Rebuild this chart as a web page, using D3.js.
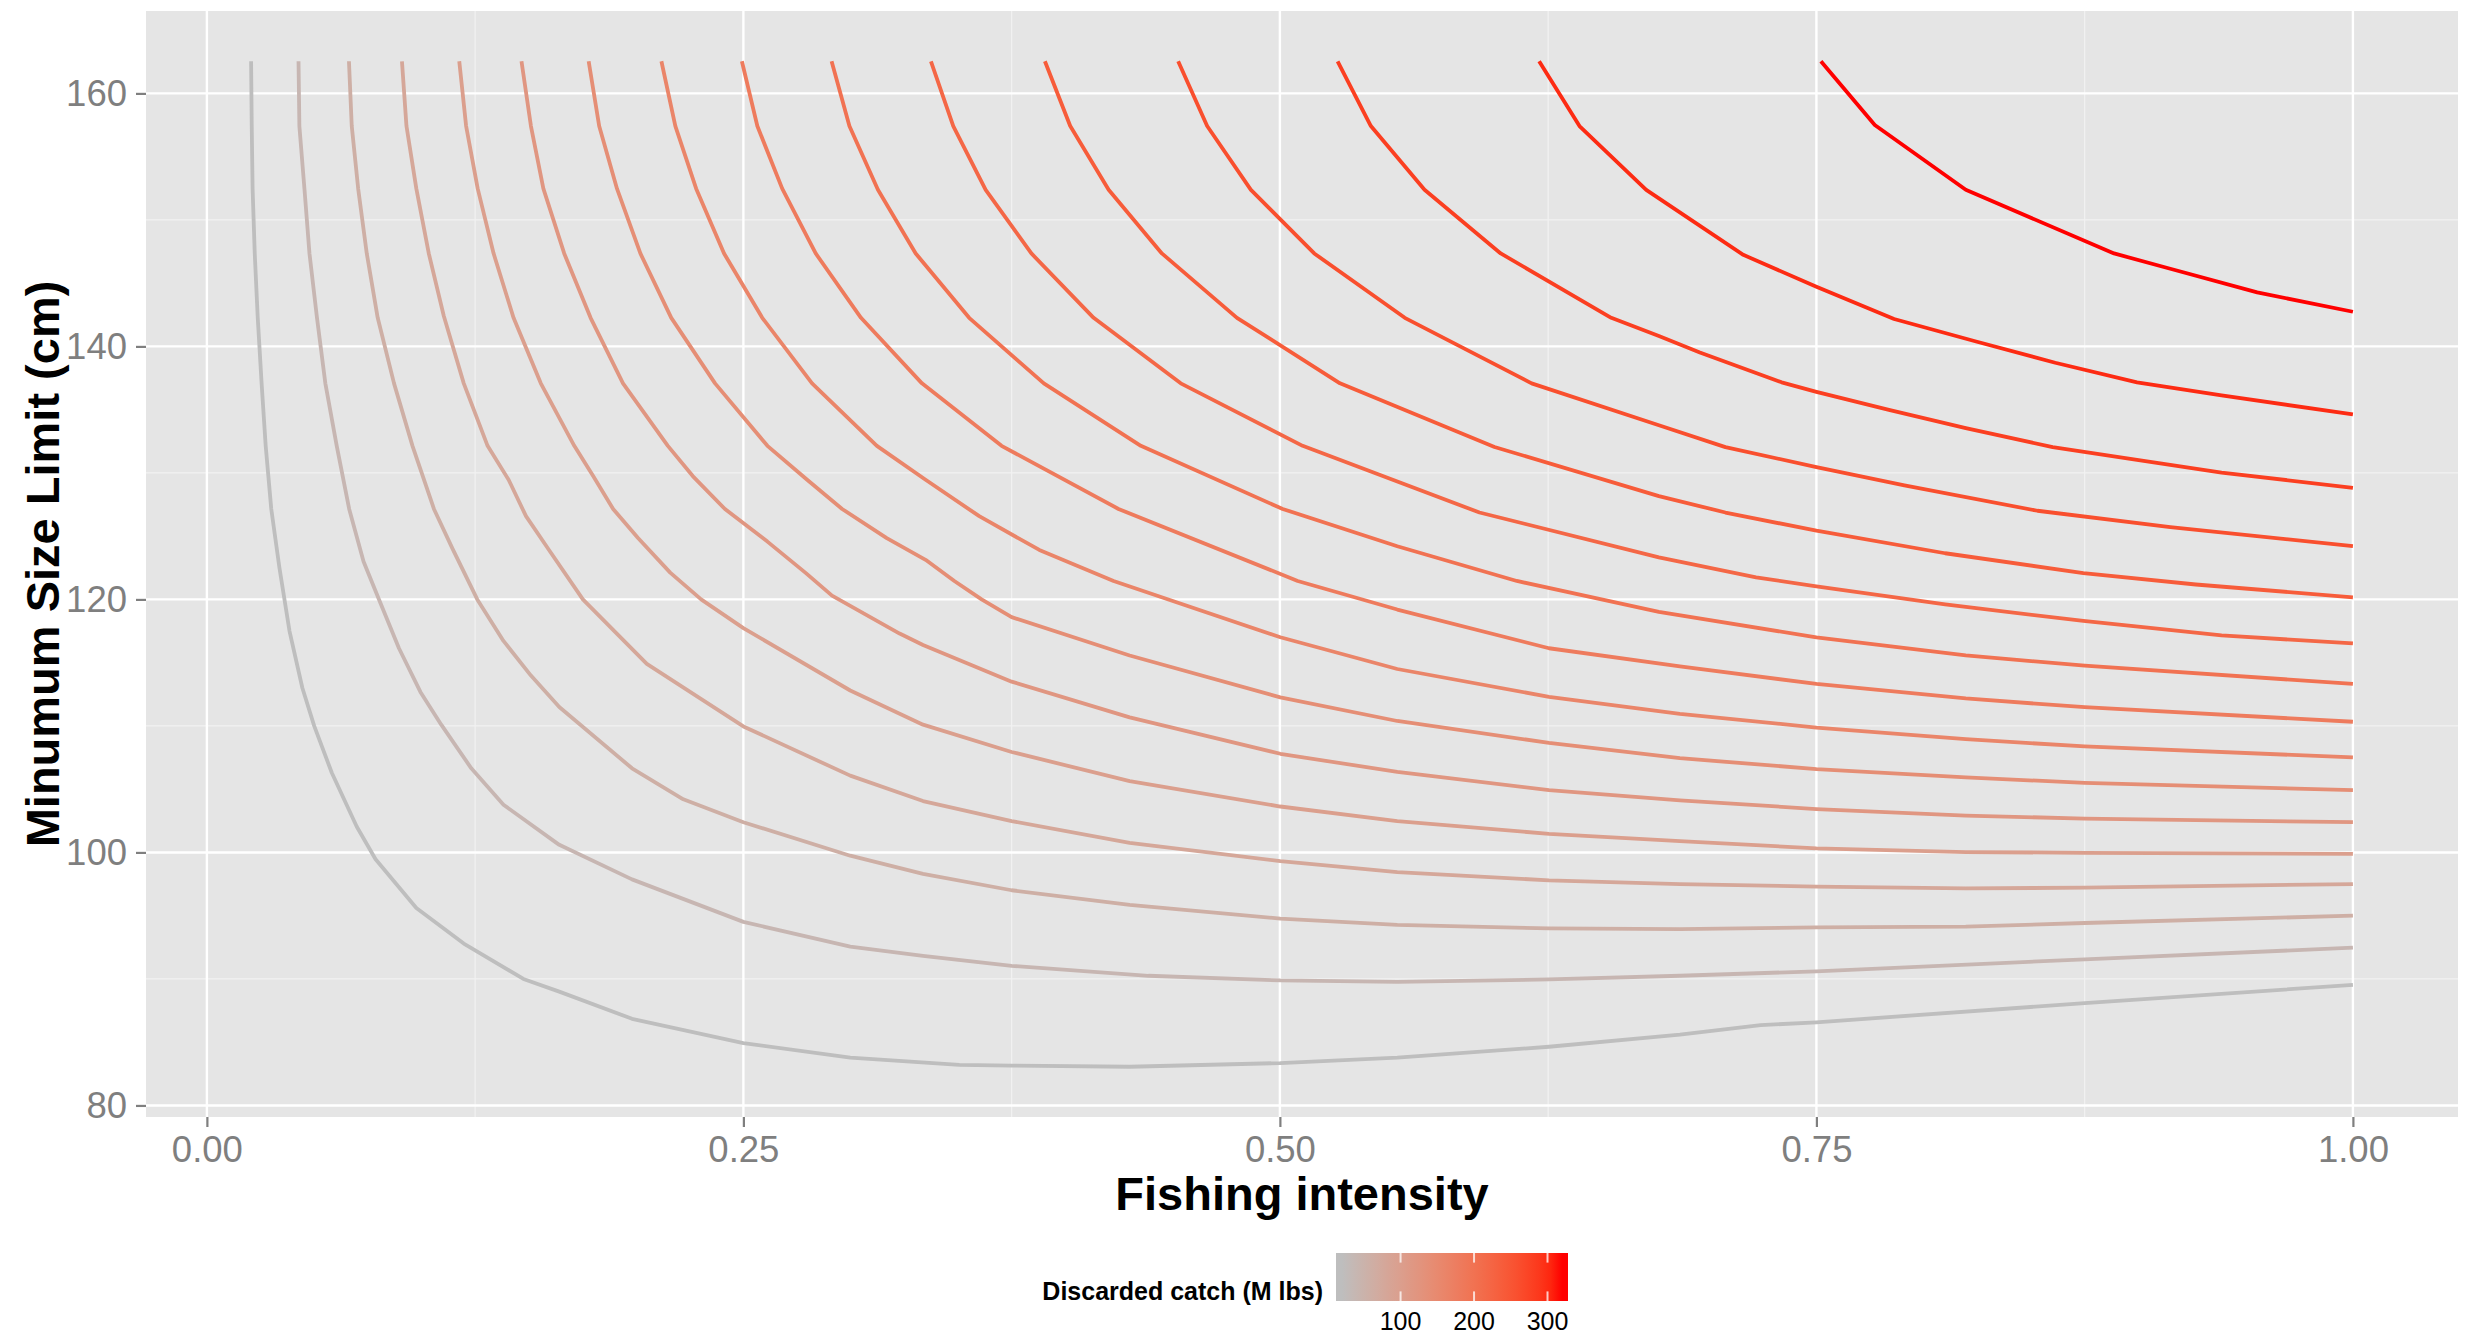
<!DOCTYPE html>
<html>
<head>
<meta charset="utf-8">
<script src="https://cdnjs.cloudflare.com/ajax/libs/d3/7.8.5/d3.min.js"></script>
<style>
  body { margin: 0; background: #ffffff; }
  text { font-family: "Liberation Sans", Arial, Helvetica, sans-serif; }
</style>
</head>
<body>
<script>

// contour levels (discarded catch, M lbs)
var levels = [20, 40, 60, 80, 100, 120, 140, 160, 180, 200, 220, 240, 260, 280, 300, 320];

// each contour as [fishing intensity, size limit]
var contour020 = [[0.0206,162.54],[0.0209,157.42],[0.0213,152.47],[0.0223,147.35],[0.0237,142.26],[0.0255,137.08],
  [0.0274,132.14],[0.03,127.15],[0.0338,122.5],[0.0385,117.5],[0.0445,113.0],[0.05,110.0],[0.0582,106.3],
  [0.0698,102.05],[0.0786,99.46],[0.0976,95.6],[0.1197,92.8],[0.1475,90.0],[0.1642,89.0],[0.1981,86.85],
  [0.25,84.93],[0.2998,83.78],[0.3506,83.2],[0.375,83.15],[0.43,83.06],[0.5002,83.35],[0.5547,83.78],
  [0.6254,84.64],[0.6864,85.6],[0.724,86.35],[0.75,86.57],[0.875,88.09],[1.0,89.53]];
var contour040 = [[0.0427,162.54],[0.0431,157.42],[0.0455,152.38],[0.0478,147.35],[0.0513,142.26],[0.0552,137.08],
  [0.0605,132.14],[0.0663,127.15],[0.073,123.0],[0.0802,120],[0.0895,116.14],[0.0995,112.69],[0.1092,110.1],
  [0.1232,106.65],[0.1382,103.77],[0.1642,100.6],[0.1981,97.87],[0.25,94.51],[0.2998,92.55],[0.3337,91.83],
  [0.375,91.04],[0.4387,90.25],[0.5002,89.88],[0.5547,89.76],[0.6254,89.96],[0.6864,90.25],[0.75,90.6],
  [0.875,91.55],[1.0,92.47]];
var contour060 = [[0.0662,162.54],[0.0675,157.42],[0.0705,152.47],[0.0745,147.35],[0.0796,142.26],[0.0872,137.08],
  [0.0958,132.14],[0.1058,127.15],[0.1145,124.0],[0.126,120],[0.1382,116.72],[0.151,113.98],[0.1642,111.5],
  [0.1981,106.65],[0.222,104.2],[0.25,102.39],[0.2998,99.74],[0.3337,98.31],[0.375,97.01],[0.43,95.86],
  [0.5002,94.77],[0.5547,94.28],[0.6254,93.99],[0.6864,93.93],[0.75,94.08],[0.8196,94.13],[0.875,94.42],[1.0,95.0]];
var contour080 = [[0.0909,162.54],[0.093,157.42],[0.0976,152.47],[0.1034,147.35],[0.1104,142.4],[0.1197,137.08],
  [0.1308,132.14],[0.1406,129.46],[0.1487,126.58],[0.1591,123.99],[0.1752,120],[0.205,114.9],
  [0.25,109.96],[0.2998,106.07],[0.3337,104.06],[0.375,102.48],[0.43,100.75],[0.5002,99.31],[0.5547,98.45],
  [0.6254,97.79],[0.6864,97.5],[0.75,97.3],[0.8196,97.16],[0.875,97.21],[1.0,97.5]];
var contour100 = [[0.1176,162.54],[0.1208,157.42],[0.1262,152.47],[0.1336,147.35],[0.1429,142.26],[0.1556,137.08],
  [0.1712,132.14],[0.18,129.75],[0.1893,127.15],[0.2009,124.85],[0.2159,122.12],[0.2303,120],[0.25,117.73],
  [0.2998,112.8],[0.3337,110.1],[0.375,107.94],[0.43,105.64],[0.5002,103.63],[0.5547,102.48],[0.6254,101.47],
  [0.6864,100.9],[0.75,100.32],[0.8196,100.03],[0.875,99.97],[1.0,99.89]];
var contour120 = [[0.1466,162.54],[0.151,157.42],[0.1568,152.47],[0.1665,147.35],[0.1788,142.26],[0.1939,137.08],
  [0.2148,132.14],[0.2264,129.75],[0.2414,127.15],[0.2612,124.57],[0.279,122.1],[0.2913,120.3],[0.3228,117.3],
  [0.3337,116.4],[0.375,113.5],[0.43,110.68],[0.5002,107.8],[0.5547,106.36],[0.6254,104.92],[0.6864,104.12],
  [0.75,103.43],[0.8196,102.91],[0.875,102.68],[1.0,102.39]];
var contour140 = [[0.1779,162.54],[0.1828,157.42],[0.1911,152.47],[0.202,147.35],[0.2164,142.26],[0.2368,137.08],
  [0.2612,132.14],[0.2797,129.46],[0.296,127.15],[0.3168,124.85],[0.3349,123.13],[0.3483,121.46],[0.361,120],
  [0.375,118.6],[0.43,115.57],[0.5002,112.26],[0.5547,110.39],[0.6254,108.66],[0.6864,107.45],[0.75,106.59],
  [0.8196,105.93],[0.875,105.5],[1.0,104.92]];
var contour160 = [[0.2118,162.54],[0.2183,157.42],[0.228,152.47],[0.241,147.35],[0.2588,142.26],[0.282,137.08],
  [0.3122,132.14],[0.3349,129.46],[0.3599,126.58],[0.3879,123.91],[0.4225,121.46],[0.5002,117.01],[0.5547,114.5],
  [0.6254,112.3],[0.6864,110.96],[0.75,109.87],[0.8196,108.95],[0.875,108.38],[1.0,107.51]];
var contour180 = [[0.2493,162.54],[0.2565,157.42],[0.2681,152.47],[0.2837,147.35],[0.3048,142.26],[0.3332,137.08],
  [0.3703,132.14],[0.4248,127.15],[0.5083,121.46],[0.5547,119.2],[0.6254,116.14],[0.6864,114.7],[0.75,113.32],
  [0.8196,112.17],[0.875,111.48],[1.0,110.33]];
var contour200 = [[0.2911,162.54],[0.2994,157.42],[0.3127,152.38],[0.3303,147.35],[0.3552,142.26],[0.39,137.08],
  [0.4352,132.14],[0.5013,127.15],[0.5547,124.2],[0.6104,121.46],[0.6766,119.02],[0.75,117.0],[0.8196,115.57],
  [0.875,114.76],[1.0,113.32]];
var contour220 = [[0.3374,162.54],[0.3478,157.42],[0.3629,152.38],[0.3842,147.35],[0.4132,142.26],[0.4538,137.08],
  [0.5106,132.14],[0.593,126.87],[0.6766,123.33],[0.7219,121.75],[0.75,121.03],[0.81,119.6],[0.8744,118.3],
  [0.9388,117.15],[1.0,116.52]];
var contour240 = [[0.3905,162.54],[0.4023,157.42],[0.4202,152.38],[0.445,147.35],[0.48,142.26],[0.528,137.08],
  [0.6,132.05],[0.6766,128.17],[0.7076,126.87],[0.75,125.43],[0.81,123.65],[0.8744,122.08],[0.9268,121.18],
  [1.0,120.17]];
var contour260 = [[0.4526,162.54],[0.4661,157.42],[0.4865,152.38],[0.516,147.35],[0.5582,142.26],[0.6173,137.08],
  [0.6766,133.77],[0.7076,132.04],[0.75,130.46],[0.791,129.02],[0.853,127.01],[0.9149,125.71],[1.0,124.22]];
var contour280 = [[0.5269,162.54],[0.5424,157.42],[0.5674,152.38],[0.6029,147.35],[0.6544,142.26],[0.6766,140.82],
  [0.6957,139.52],[0.7338,137.16],[0.75,136.41],[0.7838,134.98],[0.8196,133.54],[0.8601,132.04],[0.8994,131.03],
  [0.9388,130.03],[1.0,128.82]];
var contour300 = [[0.6208,162.54],[0.6396,157.42],[0.6707,152.38],[0.7159,147.24],[0.75,144.71],[0.7862,142.17],
  [0.8244,140.39],[0.8613,138.71],[0.8994,137.16],[0.9388,136.12],[1.0,134.63]];
var contour320 = [[0.7521,162.54],[0.7772,157.5],[0.8196,152.38],[0.8887,147.35],[0.9149,146.14],[0.9554,144.27],
  [1.0,142.74]];

var contours = [contour020, contour040, contour060, contour080, contour100, contour120, contour140, contour160,
  contour180, contour200, contour220, contour240, contour260, contour280, contour300, contour320];

// tick labels
var xTicks = [0, 0.25, 0.5, 0.75, 1.0];
var xMinor = [0.125, 0.375, 0.625, 0.875];
var yTicks = [80, 100, 120, 140, 160];
var yMinor = [90, 110, 130, 150];
var legendTicks = [100, 200, 300];

// page and panel
var W = 2468, H = 1334;
var panel = {left: 146, top: 11, right: 2458, bottom: 1117};

var svg = d3.select("body").append("svg")
    .attr("width", W)
    .attr("height", H)
    .style("display", "block");

svg.append("rect").attr("width", W).attr("height", H).attr("fill", "#ffffff");

// scales, padded 5% like ggplot
var allPts = d3.merge(contours);
function expand(ext) {
  var r = ext[1] - ext[0];
  return [ext[0] - 0.05 * r, ext[1] + 0.05 * r];
}
var x = d3.scaleLinear()
    .domain(expand(d3.extent(allPts, function(d) { return d[0]; })))
    .range([panel.left, panel.right]);
var y = d3.scaleLinear()
    .domain(expand(d3.extent(allPts, function(d) { return d[1]; })))
    .range([panel.bottom, panel.top]);

var colour = d3.scaleLinear()
    .domain([d3.min(levels), d3.max(levels)])
    .range(["#BEBEBE", "#FF0000"])
    .interpolate(d3.interpolateLab);

// panel background and grid
svg.append("rect")
    .attr("x", panel.left).attr("y", panel.top)
    .attr("width", panel.right - panel.left)
    .attr("height", panel.bottom - panel.top)
    .attr("fill", "#E5E5E5");

var grid = svg.append("g");
grid.selectAll(".xminor").data(xMinor).enter().append("line")
    .attr("x1", function(d) { return x(d); }).attr("x2", function(d) { return x(d); })
    .attr("y1", panel.top).attr("y2", panel.bottom)
    .attr("stroke", "#F2F2F2").attr("stroke-width", 1.2);
grid.selectAll(".yminor").data(yMinor).enter().append("line")
    .attr("y1", function(d) { return y(d); }).attr("y2", function(d) { return y(d); })
    .attr("x1", panel.left).attr("x2", panel.right)
    .attr("stroke", "#F2F2F2").attr("stroke-width", 1.2);
grid.selectAll(".xmajor").data(xTicks).enter().append("line")
    .attr("x1", function(d) { return x(d); }).attr("x2", function(d) { return x(d); })
    .attr("y1", panel.top).attr("y2", panel.bottom)
    .attr("stroke", "#FFFFFF").attr("stroke-width", 2.4);
grid.selectAll(".ymajor").data(yTicks).enter().append("line")
    .attr("y1", function(d) { return y(d); }).attr("y2", function(d) { return y(d); })
    .attr("x1", panel.left).attr("x2", panel.right)
    .attr("stroke", "#FFFFFF").attr("stroke-width", 2.4);

// contour lines
var line = d3.line()
    .x(function(d) { return x(d[0]); })
    .y(function(d) { return y(d[1]); });

svg.append("g").selectAll("path")
    .data(contours)
  .enter().append("path")
    .attr("d", line)
    .attr("fill", "none")
    .attr("stroke", function(d, i) { return colour(levels[i]); })
    .attr("stroke-width", 3.8)
    .attr("stroke-linejoin", "round");

// axes
var axisCol = "#7F7F7F";

var gx = svg.append("g")
    .attr("transform", "translate(0," + panel.bottom + ")")
    .call(d3.axisBottom(x).tickValues(xTicks).tickFormat(d3.format(".2f")).tickSize(10).tickPadding(9));
var gy = svg.append("g")
    .attr("transform", "translate(" + panel.left + ",0)")
    .call(d3.axisLeft(y).tickValues(yTicks).tickFormat(d3.format("d")).tickSize(10).tickPadding(9));

[gx, gy].forEach(function(g) {
  g.select(".domain").remove();
  g.selectAll(".tick line").attr("stroke", axisCol).attr("stroke-width", 2.2);
  g.selectAll(".tick text")
      .attr("fill", axisCol)
      .style("font-size", "36.5px")
      .style("font-family", "'Liberation Sans', Arial, sans-serif");
});

// axis titles
svg.append("text")
    .attr("x", (panel.left + panel.right) / 2)
    .attr("y", 1210)
    .attr("text-anchor", "middle")
    .style("font-size", "47px")
    .style("font-weight", "bold")
    .attr("fill", "#000")
    .text("Fishing intensity");

svg.append("text")
    .attr("transform", "translate(59," + ((panel.top + panel.bottom) / 2) + ") rotate(-90)")
    .attr("text-anchor", "middle")
    .style("font-size", "47px")
    .style("font-weight", "bold")
    .attr("fill", "#000")
    .text("Minumum Size Limit (cm)");

// colour bar legend
var bar = {left: 1336, right: 1568, top: 1253, bottom: 1301};
var barLen = bar.right - bar.left;
var lx = d3.scaleLinear()
    .domain([d3.min(levels), d3.max(levels)])
    .range([bar.left + 0.025 * barLen, bar.right - 0.025 * barLen]);

var grad = svg.append("defs").append("linearGradient")
    .attr("id", "discardGrad")
    .attr("x1", "0%").attr("x2", "100%").attr("y1", "0%").attr("y2", "0%");
d3.range(20).forEach(function(i) {
  var v = d3.min(levels) + i * (d3.max(levels) - d3.min(levels)) / 19;
  grad.append("stop")
      .attr("offset", ((lx(v) - bar.left) / barLen * 100) + "%")
      .attr("stop-color", colour(v));
});

svg.append("rect")
    .attr("x", bar.left).attr("y", bar.top)
    .attr("width", barLen).attr("height", bar.bottom - bar.top)
    .attr("fill", "url(#discardGrad)");

var barH = bar.bottom - bar.top;
var lt = svg.append("g");
lt.selectAll(".ttop").data(legendTicks).enter().append("line")
    .attr("x1", function(d) { return lx(d); }).attr("x2", function(d) { return lx(d); })
    .attr("y1", bar.top).attr("y2", bar.top + barH / 5)
    .attr("stroke", "#FFFFFF").attr("stroke-opacity", 0.75).attr("stroke-width", 2);
lt.selectAll(".tbot").data(legendTicks).enter().append("line")
    .attr("x1", function(d) { return lx(d); }).attr("x2", function(d) { return lx(d); })
    .attr("y1", bar.bottom - barH / 5).attr("y2", bar.bottom)
    .attr("stroke", "#FFFFFF").attr("stroke-opacity", 0.75).attr("stroke-width", 2);
lt.selectAll("text").data(legendTicks).enter().append("text")
    .attr("x", function(d) { return lx(d); })
    .attr("y", 1330)
    .attr("text-anchor", "middle")
    .style("font-size", "25px")
    .attr("fill", "#000")
    .text(function(d) { return d; });

svg.append("text")
    .attr("x", 1323)
    .attr("y", 1300)
    .attr("text-anchor", "end")
    .style("font-size", "25px")
    .style("font-weight", "bold")
    .attr("fill", "#000")
    .text("Discarded catch (M lbs)");

</script>
</body>
</html>
